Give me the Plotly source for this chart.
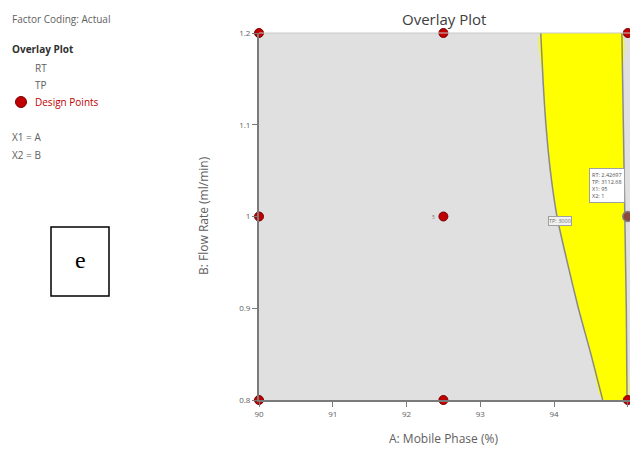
import plotly.graph_objects as go

# Design space and factor ranges
x_range = [90, 95.03]
y_range = [0.8, 1.2]
x_ticks = [90, 91, 92, 93, 94, 95]
y_ticks = [0.8, 0.9, 1.0, 1.1, 1.2]
y_tick_text = ["0.8", "0.9", "1", "1.1", "1.2"]

# Sweet-spot boundary (A: Mobile Phase at each B: Flow Rate)
flow_levels = [0.8, 0.85, 0.9, 0.95, 1.0, 1.05, 1.1, 1.15, 1.2]
left_edge = [94.66, 94.50, 94.33, 94.18, 94.04, 93.95, 93.89, 93.85, 93.82]
right_edge = [94.99, 94.985, 94.98, 94.97, 94.96, 94.95, 94.94, 94.93, 94.92]

# Design points
pts_a = [90, 90, 90, 92.5, 92.5, 92.5, 95, 95]
pts_b = [0.8, 1.0, 1.2, 0.8, 1.0, 1.2, 0.8, 1.2]
flag_a, flag_b = 95, 1.0
flag_lines = ["RT: 2.42697", "TP: 3112.68", "X1: 95", "X2: 1"]

FONT = "Open Sans"
GREY = "#606060"

W, H = 630, 454
L, T, R, B = 259, 33, 0, 54
PW, PH = W - L - R, H - T - B


def px(x):
    return (x - L) / PW


def py(y):
    return (H - B - y) / PH


fig = go.Figure()

# yellow feasible region
poly_x = left_edge + right_edge[::-1] + [left_edge[0]]
poly_y = flow_levels + flow_levels[::-1] + [flow_levels[0]]
fig.add_trace(go.Scatter(x=poly_x, y=poly_y, fill="toself", fillcolor="#ffff00",
                         mode="lines", line=dict(width=0, shape="spline", smoothing=0.6),
                         hoverinfo="skip", showlegend=False))
fig.add_trace(go.Scatter(x=left_edge, y=flow_levels, mode="lines",
                         line=dict(color="#8a8a8a", width=1.5, shape="spline", smoothing=0.6),
                         hoverinfo="skip", showlegend=False))
fig.add_trace(go.Scatter(x=right_edge, y=flow_levels, mode="lines",
                         line=dict(color="#8a8a8a", width=1.5, shape="spline", smoothing=0.6),
                         hoverinfo="skip", showlegend=False))

# design points
fig.add_trace(go.Scatter(x=pts_a, y=pts_b, mode="markers", cliponaxis=False,
                         marker=dict(size=9, color="#c00000", line=dict(color="#7a0000", width=1)),
                         showlegend=False))
fig.add_trace(go.Scatter(x=[flag_a], y=[flag_b], mode="markers", cliponaxis=False,
                         marker=dict(size=10, color="#8c4a3c", line=dict(color="#808080", width=1.5)),
                         showlegend=False))

ann = []


def note(text, x0, y0, size, color, xanchor="center", yanchor="middle", **kw):
    ann.append(dict(x=px(x0), y=py(y0), xref="paper", yref="paper", text=text,
                    xanchor=xanchor, yanchor=yanchor, showarrow=False,
                    font=dict(family=kw.pop("family", FONT), size=size, color=color), **kw))


# title and axis titles
note("Overlay Plot", 444, 19, 15, "#404040")
note("A: Mobile Phase (%)", 443, 438, 12, GREY)
note("B: Flow Rate (ml/min)", 203, 216, 12, GREY, textangle=-90)

# left info panel
note("Factor Coding: Actual", 10, 19, 10, GREY, xanchor="left")
note("<b>Overlay Plot</b>", 10, 49, 10, "#303030", xanchor="left")
note("RT", 33, 68, 10, GREY, xanchor="left")
note("TP", 33, 85, 10, GREY, xanchor="left")
note("Design Points", 33, 102, 10, "#c00000", xanchor="left")
note("X1 = A", 10, 137, 10, GREY, xanchor="left")
note("X2 = B", 10, 155, 10, GREY, xanchor="left")

# replicate count next to centre point
ann.append(dict(x=92.5, y=1.0, text="5", xanchor="right", yanchor="middle", xshift=-6,
                showarrow=False, font=dict(family=FONT, size=5, color="#707070")))

# contour label
note("TP: 3000", 560, 221, 5.5, "#707070", bgcolor="#f2f2f2", bordercolor="#a0a0a0",
     borderwidth=1, borderpad=0)

# flag box
note("<br>".join(flag_lines), 589, 168, 5.5, "#505050", xanchor="left", yanchor="top",
     align="left", bgcolor="white", bordercolor="#a0a0a0", borderwidth=1, borderpad=2)

# letter box
note("e", 80, 260, 24, "black", family="Liberation Serif")

shapes = [
    dict(type="rect", xref="paper", yref="paper", x0=px(51), x1=px(109), y0=py(296), y1=py(227),
         line=dict(color="black", width=1.5)),
    dict(type="line", xref="paper", yref="paper", x0=0, x1=1, y0=1, y1=1,
         line=dict(color="#c8c8c8", width=1)),
    dict(type="circle", xref="paper", yref="paper", xsizemode="pixel", ysizemode="pixel",
         xanchor=px(21), yanchor=py(102), x0=-5.5, x1=5.5, y0=-5.5, y1=5.5,
         fillcolor="#c00000", line=dict(color="#7a0000", width=1)),
]

fig.update_layout(
    width=W, height=H,
    margin=dict(l=L, r=R, t=T, b=B, pad=0),
    paper_bgcolor="white", plot_bgcolor="#e0e0e0",
    annotations=ann, shapes=shapes, showlegend=False,
    font=dict(family=FONT, color=GREY),
)
fig.update_xaxes(range=x_range, tickvals=x_ticks, showgrid=False, zeroline=False,
                 showline=True, linecolor="#7a7a7a", linewidth=2, ticks="outside",
                 ticklen=5, tickcolor="#7a7a7a", tickfont=dict(family=FONT, size=8, color=GREY))
fig.update_yaxes(range=y_range, tickvals=y_ticks, ticktext=y_tick_text, showgrid=False, zeroline=False,
                 showline=True, linecolor="#7a7a7a", linewidth=2, ticks="outside",
                 ticklen=5, tickcolor="#7a7a7a", tickfont=dict(family=FONT, size=8, color=GREY))

fig.write_html("out.html")
